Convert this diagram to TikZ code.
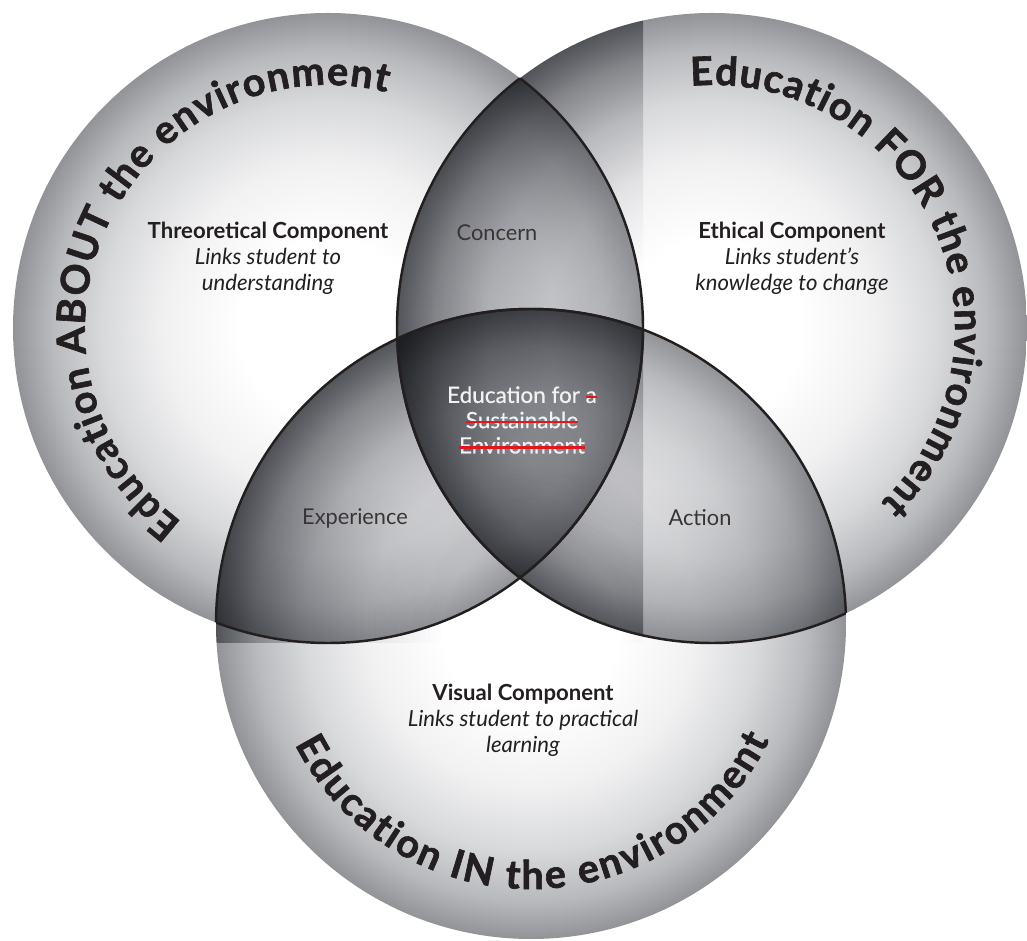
\documentclass[tikz,border=0pt]{standalone}
\usepackage{fontspec}
\setmainfont{Lato}
\newfontfamily\medfont{Lato}[FakeBold=0.5]
\newfontfamily\heavyfont{Lato}[BoldFeatures={FakeBold=1.6}]
\usetikzlibrary{decorations.text,calc}
\definecolor{txt}{RGB}{35,31,32}
\definecolor{rimc}{RGB}{145,147,151}
\definecolor{ga}{RGB}{241,241,242}
\definecolor{gb}{RGB}{216,217,219}
\definecolor{gc}{RGB}{184,185,188}
\definecolor{strikered}{RGB}{230,20,30}
\definecolor{centretxt}{RGB}{242,242,242}
\pgfdeclareradialshading{disc}{\pgfpoint{0bp}{0bp}}{color(0bp)=(white); color(7bp)=(white); color(13bp)=(ga); color(18bp)=(gb); color(22bp)=(gc); color(25bp)=(rimc); color(50bp)=(rimc)}
\newcommand\strk[1]{\sbox0{#1}\rlap{\usebox0}\textcolor{strikered}{\rule[0.22em]{\wd0}{1.3pt}}}
\newcommand\curvestyle{\fontsize{22.5}{25}\selectfont\heavyfont\bfseries}
\tikzset{
  arcline/.style={draw=txt, line width=1.4pt},
  lab/.style={align=center, text=txt, font=\fontsize{12.6}{14.8}\selectfont, inner sep=0pt},
  zone/.style={text=txt!90, font=\fontsize{12.4}{14.7}\selectfont, inner sep=0pt},
  centre/.style={align=center, text=centretxt, font=\fontsize{12.8}{14.4}\selectfont\medfont, inner sep=0pt},
  curved/.style={decorate, decoration={text along path, text align=fit to path, text color=txt, text={|\curvestyle|#1}}}
}
\begin{document}
\begin{tikzpicture}[x=0.02cm, y=0.02cm]
\useasboundingbox (0,0) rectangle (1027,940);
\coordinate (L) at (328,612);
\coordinate (R) at (712,612);
\coordinate (B) at (531,316);
% shaded discs, multiplied together
\begin{scope}[blend group=multiply]
  \shade[shading=disc] (L) circle[radius=315];
  \shade[shading=disc] (R) circle[radius=315];
  \shade[shading=disc] (B) circle[radius=315];
  \begin{scope}
    \clip (13,297) rectangle (643,927);
    \shade[shading=disc] (R) circle[radius=315];
    \shade[shading=disc] (B) circle[radius=315];
  \end{scope}
\end{scope}
% interior arcs
\begin{scope}\clip (L) circle[radius=315]; \draw[arcline] (R) circle[radius=315]; \draw[arcline] (B) circle[radius=315];\end{scope}
\begin{scope}\clip (R) circle[radius=315]; \draw[arcline] (L) circle[radius=315]; \draw[arcline] (B) circle[radius=315];\end{scope}
\begin{scope}\clip (B) circle[radius=315]; \draw[arcline] (L) circle[radius=315]; \draw[arcline] (R) circle[radius=315];\end{scope}
% curved titles
\path[curved={Education ABOUT the environment}] ($(L)+(233:243)$) arc[start angle=233, end angle=76, radius=243];
\path[curved={Education FOR the environment}] ($(R)+(95:243)$) arc[start angle=95, end angle=-46, radius=243];
\path[curved={Education IN the environment}] ($(B)+(207:265)$) arc[start angle=207, end angle=334, radius=265];
% labels
\node[lab] (theo) at (268,682) {\textbf{Threoretical Component}\\\textit{Links student to}\\\textit{understanding}};
\node[lab] (eth) at (792,682) {\textbf{Ethical Component}\\\textit{Links student’s}\\\textit{knowledge to change}};
\node[lab] (vis) at (523,220) {\textbf{Visual Component}\\\textit{Links student to practical}\\\textit{learning}};
\node[zone] (concern) at (497,707) {Concern};
\node[zone] (exper) at (355,422) {Experience};
\node[zone] (action) at (700,422) {Action};
\node[centre] (esd) at (522,520) {Education for \strk{a}\\\strk{Sustainable}\\\strk{Environment}};
\end{tikzpicture}
\end{document}
